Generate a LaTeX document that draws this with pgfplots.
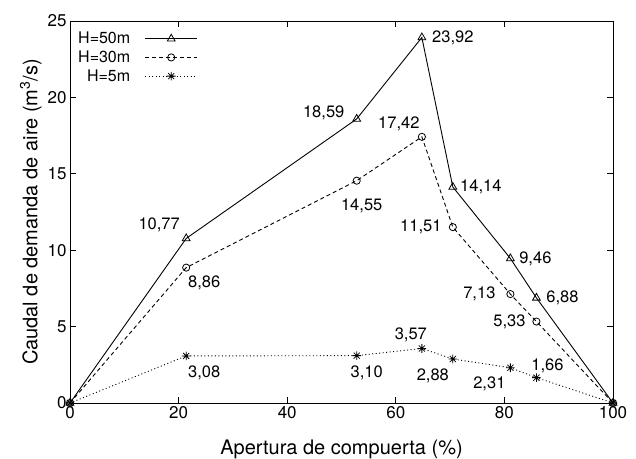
\documentclass[border=0pt]{standalone}
\usepackage{fontspec}
\setmainfont{TeX Gyre Heros}
\usepackage{pgfplots}
\pgfplotsset{compat=1.18}
\pgfdeclareplotmark{plusx}{%
  \pgfpathmoveto{\pgfqpoint{0pt}{\pgfplotmarksize}}\pgfpathlineto{\pgfqpoint{0pt}{-\pgfplotmarksize}}%
  \pgfpathmoveto{\pgfqpoint{\pgfplotmarksize}{0pt}}\pgfpathlineto{\pgfqpoint{-\pgfplotmarksize}{0pt}}%
  \pgfpathmoveto{\pgfqpoint{0.707\pgfplotmarksize}{0.707\pgfplotmarksize}}\pgfpathlineto{\pgfqpoint{-0.707\pgfplotmarksize}{-0.707\pgfplotmarksize}}%
  \pgfpathmoveto{\pgfqpoint{-0.707\pgfplotmarksize}{0.707\pgfplotmarksize}}\pgfpathlineto{\pgfqpoint{0.707\pgfplotmarksize}{-0.707\pgfplotmarksize}}%
  \pgfusepathqstroke}
\begin{document}
\begin{tikzpicture}[lbl/.style={font=\fontsize{16.5}{19}\selectfont, inner sep=0pt}]
\useasboundingbox (-70pt,-55pt) rectangle (566pt,403pt);
\begin{axis}[
  at={(0,0)}, anchor=south west,
  scale only axis, width=543pt, height=382pt,
  xmin=0, xmax=100, ymin=0, ymax=25,
  xtick={0,20,...,100}, ytick={0,5,...,25},
  tick align=inside, major tick length=6pt,
  xtick pos=both, ytick pos=both,
  axis line style={line width=0.9pt},
  tick style={line width=0.8pt, black},
  tick label style={font=\fontsize{17}{20}\selectfont},
  label style={font=\fontsize{20}{24}\selectfont},
  xlabel style={yshift=-14pt},
  ylabel style={yshift=-1pt},
  /pgf/number format/assume math mode=true,
  xlabel={Apertura de compuerta (\%)},
  ylabel={Caudal de demanda de aire (m\textsuperscript{3}/s)},
  legend style={at={(0,1)}, anchor=north west, draw=none, fill=none,
    font=\fontsize{16}{19}\selectfont, row sep=1.5pt, xshift=3pt, yshift=-7pt},
  legend cell align=right,
  legend plot pos=right,
  legend image code/.code={\path[draw=none, fill=none, mark=none] (0pt,-1pt) rectangle (1pt,1pt);
    \draw[mark repeat=2,mark phase=2] plot coordinates {(13pt,0pt) (39pt,0pt) (65pt,0pt)};},
]
\addplot[black, line width=0.9pt, mark=triangle, mark size=4.5pt, mark options={solid, line width=0.8pt}] coordinates {
(0,0) (21.4,10.77) (52.8,18.59) (64.8,23.92) (70.5,14.14) (81.1,9.46) (85.9,6.88) (100,0)};
\addlegendentry{H=50m}
\addplot[black, line width=0.9pt, dash pattern=on 4pt off 3pt, mark=o, mark size=3.6pt, mark options={solid, line width=0.8pt}] coordinates {
(0,0) (21.4,8.86) (52.8,14.55) (64.8,17.42) (70.5,11.51) (81.1,7.13) (85.9,5.33) (100,0)};
\addlegendentry{H=30m}
\addplot[black, line width=0.9pt, dash pattern=on 1pt off 2.5pt, mark=plusx, mark size=4.3pt, mark options={solid, line width=0.8pt}] coordinates {
(0,0) (21.4,3.08) (52.8,3.10) (64.8,3.57) (70.5,2.88) (81.1,2.31) (85.9,1.66) (100,0)};
\addlegendentry{H=5m}
% H=50m labels
\node[lbl, xshift=-27pt, yshift=14pt] at (axis cs:21.4,10.77) {10,77};
\node[lbl, xshift=-33pt, yshift=6pt] at (axis cs:52.8,18.59) {18,59};
\node[lbl, xshift=31pt] at (axis cs:64.8,23.92) {23,92};
\node[lbl, xshift=28pt] at (axis cs:70.5,14.14) {14,14};
\node[lbl, xshift=25pt] at (axis cs:81.1,9.46) {9,46};
\node[lbl, xshift=26pt] at (axis cs:85.9,6.88) {6,88};
% H=30m labels
\node[lbl, xshift=18pt, yshift=-15pt] at (axis cs:21.4,8.86) {8,86};
\node[lbl, xshift=5pt, yshift=-25pt] at (axis cs:52.8,14.55) {14,55};
\node[lbl, xshift=-23pt, yshift=13pt] at (axis cs:64.8,17.42) {17,42};
\node[lbl, xshift=-32pt] at (axis cs:70.5,11.51) {11,51};
\node[lbl, xshift=-31pt] at (axis cs:81.1,7.13) {7,13};
\node[lbl, xshift=-27pt] at (axis cs:85.9,5.33) {5,33};
% H=5m labels
\node[lbl, xshift=18pt, yshift=-17pt] at (axis cs:21.4,3.08) {3,08};
\node[lbl, xshift=10pt, yshift=-17pt] at (axis cs:52.8,3.10) {3,10};
\node[lbl, xshift=-11pt, yshift=14pt] at (axis cs:64.8,3.57) {3,57};
\node[lbl, xshift=-20pt, yshift=-17pt] at (axis cs:70.5,2.88) {2,88};
\node[lbl, xshift=-21pt, yshift=-16pt] at (axis cs:81.1,2.31) {2,31};
\node[lbl, xshift=11pt, yshift=12pt] at (axis cs:85.9,1.66) {1,66};
\end{axis}
\end{tikzpicture}
\end{document}
